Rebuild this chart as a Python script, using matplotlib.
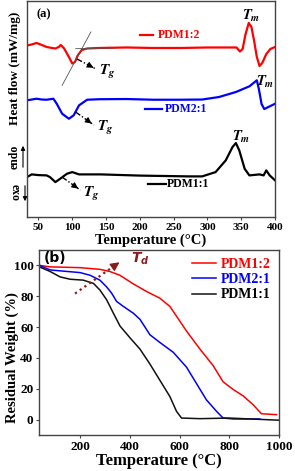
import matplotlib
matplotlib.use('Agg')
from matplotlib import pyplot as plt

plt.rcParams['font.family'] = ['Liberation Serif', 'DejaVu Serif']
plt.rcParams['font.weight'] = 'bold'
plt.rcParams['mathtext.fontset'] = 'stix'

# --- DSC (panel a), heat flow in arbitrary offset units ---
dsc_t_12 = [33, 40, 47, 55, 62, 70, 75, 80, 83, 88, 95, 100, 104, 108, 114, 122, 140, 180,
            220, 260, 300, 330, 343, 348, 352, 356, 361, 365, 369, 373, 377, 381, 387, 393, 400]
dsc_h_12 = [171.5, 172.5, 174, 172, 170, 169, 168.5, 170, 172, 168.5, 160, 153.5, 155, 161.5,
            167, 168.5, 169, 169.5, 169, 169, 169.5, 169.5, 169.5, 165.5, 168, 182, 194, 190,
            176, 160, 151, 154, 163, 168, 170]

dsc_t_21 = [33, 40, 47, 55, 62, 72, 77, 85, 95, 102, 110, 122, 140, 180, 220, 260, 292,
            317, 342, 362, 373, 376, 380, 384, 390, 400]
dsc_h_21 = [116.7, 117.5, 118.3, 117.5, 117.3, 118.3, 113.3, 103.3, 98.3, 101.7, 111.7, 117.3,
            117.8, 118, 117.3, 117.3, 117.5, 120, 125, 130.7, 136.7, 128, 113, 108, 110, 113.3]

dsc_t_11 = [33, 40, 50, 62, 67, 75, 82, 92, 100, 110, 142, 200, 272, 292, 312, 327, 337, 342,
            347, 355, 362, 377, 383, 387, 392, 400]
dsc_h_11 = [40, 42.7, 42, 41.7, 40, 35, 38.3, 43.3, 45, 42.7, 42.7, 41.5, 40.7, 40.7, 45, 56.7,
            70, 74, 66.7, 48.3, 41.7, 42.7, 41.7, 46.7, 41.7, 36.7]

# --- TGA (panel b) ---
tga_t_12 = [37, 80, 200, 280, 320, 360, 414, 468, 521, 561, 588, 628, 682, 735, 775, 815,
            856, 896, 929, 990]
tga_w_12 = [100, 99, 98.5, 97.4, 96, 93.6, 88, 83, 78.7, 73.4, 67, 57.4, 45.7, 35, 24.5, 19.6,
            15.3, 9.6, 3.8, 3.2]

tga_t_21 = [37, 80, 200, 240, 280, 307, 327, 347, 374, 414, 441, 481, 521, 575, 628, 668,
            708, 749, 775, 815, 923]
tga_w_21 = [100, 97, 95.3, 93.6, 90.4, 86, 82, 76.6, 73.4, 69, 65, 55, 50, 43.6, 34, 23.4,
            12.8, 5.3, 1, 0.4, 0.4]

tga_t_11 = [37, 80, 120, 160, 213, 254, 280, 307, 334, 361, 401, 441, 481, 521, 561, 588,
            608, 682, 800, 1000]
tga_w_11 = [99, 96, 92.5, 91, 90.4, 88.3, 84, 77.7, 69, 60.6, 53, 45.7, 36, 25.5, 15, 5.3,
            1, 0.6, 1, -0.4]

labels = ['PDM1:2', 'PDM2:1', 'PDM1:1']
colors = ['#ff0000', '#0000ff', '#000000']
xticks_a = [50, 100, 150, 200, 250, 300, 350, 400]
xticks_b = [200, 400, 600, 800, 1000]
yticks_b = [0, 20, 40, 60, 80, 100]

fig = plt.figure(figsize=(2.95, 4.71), dpi=100)
ax1 = fig.add_axes([0.0915, 0.539, 0.841, 0.459])
ax2 = fig.add_axes([0.132, 0.0764, 0.814, 0.393])

for ax in (ax1, ax2):
  for s in ax.spines.values():
    s.set_color('#444444')
    s.set_linewidth(1.0)

# panel a
ax1.plot(dsc_t_12, dsc_h_12, color=colors[0], lw=1.6)
ax1.plot(dsc_t_21, dsc_h_21, color=colors[1], lw=1.6)
ax1.plot(dsc_t_11, dsc_h_11, color=colors[2], lw=1.6)
ax1.set_xlim(33, 400)
ax1.set_ylim(0, 216)
ax1.set_yticks([])
ax1.set_xticks(xticks_a)
ax1.tick_params(axis='x', direction='out', length=2.5, labelsize=8, pad=1.5, color='#444444')
for lab in ax1.get_xticklabels():
  lab.set_fontweight('bold')

# inline labels
ax1.plot([200, 220], [182.3, 182.3], color=colors[0], lw=1.6)
ax1.text(227, 182, labels[0], color=colors[0], fontsize=8.5, va='center', ha='left')
ax1.plot([207, 233], [108.3, 108.3], color=colors[1], lw=1.6)
ax1.text(237, 108, labels[1], color=colors[1], fontsize=8.5, va='center', ha='left')
ax1.plot([212, 238], [33.3, 33.3], color=colors[2], lw=1.6)
ax1.text(240, 33, labels[2], color=colors[2], fontsize=8.5, va='center', ha='left')

ax1.text(47, 203, '(a)', fontsize=9, va='center', ha='left')

# tangent lines for Tg
ax1.plot([85, 127.5], [131.7, 185], color='#555555', lw=0.6)
ax1.plot([105, 162.5], [168.3, 169], color='#555555', lw=0.6)

tg_arrows = [((107, 158), (135, 148)), ((105, 105), (132, 92)), ((85, 40), (112, 27))]
tg_text = [(139, 145), (136, 89), (116, 23)]
for (a, b), (tx, ty) in zip(tg_arrows, tg_text):
  ax1.plot([a[0], b[0]], [a[1], b[1]], color='black', lw=1.0, ls=(0, (4, 1.5, 1, 1.5)))
  ax1.annotate('', xy=b, xytext=(b[0] - 0.3 * (b[0] - a[0]), b[1] - 0.3 * (b[1] - a[1])),
               arrowprops=dict(arrowstyle='-|>', color='black', lw=0.8, mutation_scale=9))
  ax1.text(tx, ty, r'$T_g$', fontsize=11, va='center', ha='left')

ax1.text(365, 201, r'$T_m$', fontsize=10.5, va='center', ha='center')
ax1.text(386, 135, r'$T_m$', fontsize=10.5, va='center', ha='center')
ax1.text(350, 80, r'$T_m$', fontsize=10.5, va='center', ha='center')

ax1.set_xlabel('Temperature (\u00b0C)', fontsize=10.5, fontweight='bold', labelpad=1)
fig.text(15 / 295, 1 - 68 / 471, 'Heat flow (mW/mg)', rotation=90, fontsize=9.5,
         fontweight='bold', ha='center', va='center')
fig.text(15 / 295, 1 - 157 / 471, 'endo', rotation=90, fontsize=8.5, ha='center', va='center')
fig.text(15 / 295, 1 - 193 / 471, 'exo', rotation=270, fontsize=8.5, ha='center', va='center')
fig.add_artist(matplotlib.patches.FancyArrowPatch(
  (23 / 295, 1 - 170 / 471), (23 / 295, 1 - 143 / 471), transform=fig.transFigure,
  arrowstyle='-|>', mutation_scale=6, color='black', lw=0.8))
fig.add_artist(matplotlib.patches.FancyArrowPatch(
  (25 / 295, 1 - 183 / 471), (25 / 295, 1 - 204 / 471), transform=fig.transFigure,
  arrowstyle='-|>', mutation_scale=6, color='black', lw=0.8))

# panel b
ax2.plot(tga_t_12, tga_w_12, color=colors[0], lw=1.1, label=labels[0])
ax2.plot(tga_t_21, tga_w_21, color=colors[1], lw=1.1, label=labels[1])
ax2.plot(tga_t_11, tga_w_11, color='#111111', lw=1.1, label=labels[2])
ax2.set_xlim(35, 1000)
ax2.set_ylim(-10, 110)
ax2.set_xticks(xticks_b)
ax2.set_yticks(yticks_b)
ax2.tick_params(direction='out', length=2.5, labelsize=9.5, pad=1.5, color='#444444')
for lab in ax2.get_xticklabels() + ax2.get_yticklabels():
  lab.set_fontweight('bold')
ax2.set_xlabel('Temperature (\u00b0C)', fontsize=12, fontweight='bold', labelpad=0)
ax2.set_ylabel('Residual Weight (%)', fontsize=10.5, fontweight='bold')
ax2.yaxis.set_label_coords(-0.085, 0.42)

leg = ax2.legend(loc='upper right', frameon=False, fontsize=10, handlelength=1.7,
                 handletextpad=0.35, labelspacing=0.15, borderaxespad=0.2,
                 bbox_to_anchor=(1.0, 1.0))
for txt, c in zip(leg.get_texts(), colors):
  txt.set_color(c)
  txt.set_fontweight('bold')

ax2.text(0.02, 0.955, '(b)', transform=ax2.transAxes, fontsize=10, fontweight='bold',
         family='DejaVu Sans', va='center', ha='left')
ax2.plot([180, 345], [81.7, 100.5], color='#8b1a1a', lw=1.6, ls=(0, (1, 1.6)))
ax2.annotate('', xy=(368, 103), xytext=(335, 99.3),
             arrowprops=dict(arrowstyle='-|>', color='#8b1a1a', lw=1.0, mutation_scale=13))
ax2.text(405, 104, r'$T_d$', fontsize=10, color='#8b1a1a', va='center', ha='left',
         math_fontfamily='dejavusans')

plt.savefig('out.png', dpi=100)
